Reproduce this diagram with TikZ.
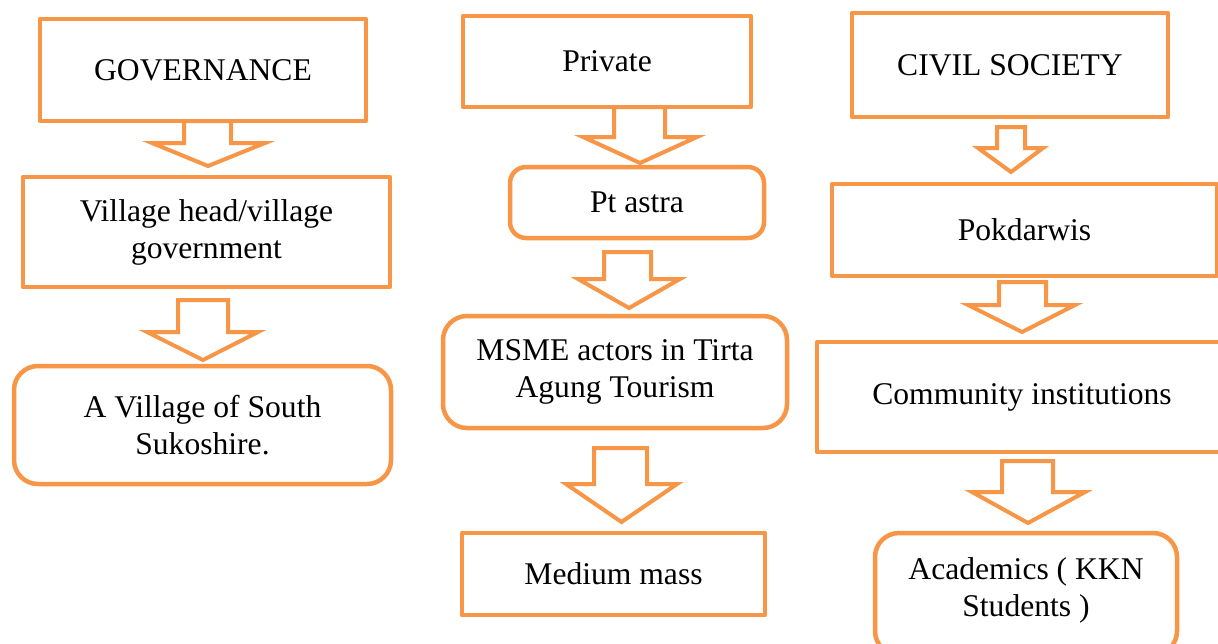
\documentclass[tikz,border=0pt]{standalone}
\usepackage{fontspec}
\setmainfont{Liberation Serif}
\definecolor{acc}{RGB}{247,150,70}
\tikzset{
  box/.style={draw=acc, line width=2.25pt, fill=white, align=center, inner sep=0pt,
    font=\fontsize{15.8}{18.5}\selectfont, line join=round},
  rbox/.style={box, rounded corners=12pt},
  barrowstyle/.style={draw=acc, line width=2pt, fill=white, line join=miter},
}
\newcommand\myblockarrow[8]{% top, shoulder, tip, stemL, stemR, headL, headR, cx
  \draw[barrowstyle] (#4,#1) -- (#4,#2) -- (#6,#2) -- (#8,#3) -- (#7,#2) -- (#5,#2) -- (#5,#1) -- cycle;}
\begin{document}
\begin{tikzpicture}[x=0.5pt,y=-0.5pt]
\useasboundingbox (0,0) rectangle (1218,643);
\clip (0,0) rectangle (1218,643);
% column 1
\myblockarrow{121}{143}{166}{184}{231}{152}{265}{208}
\myblockarrow{300}{332}{360}{178}{228}{147}{258}{203}
\node[box, minimum width=163pt, minimum height=51pt] (gov) at (203,70) {GOVERNANCE};
\node[box, minimum width=183.5pt, minimum height=55pt] (vh) at (206.5,232) {Village head/village\\government};
\node[rbox, minimum width=188.5pt, minimum height=59pt] (vil) at (202.5,425) {A Village of South\\Sukoshire.};
% column 2
\myblockarrow{107}{137}{163}{614}{665}{583}{697}{640}
\myblockarrow{252}{279}{308}{604}{651}{578}{680}{629}
\myblockarrow{448}{484}{522}{594}{647}{566}{677}{621.5}
\node[box, minimum width=144pt, minimum height=45.5pt] (priv) at (607,61.5) {Private};
\node[box, rounded corners=8pt, minimum width=127pt, minimum height=35.5pt] (pt) at (637,202.5) {Pt astra};
\node[rbox, minimum width=172pt, minimum height=56pt] (msme) at (615,372) {MSME actors in Tirta\\Agung Tourism};
\node[box, minimum width=151.5pt, minimum height=41pt] (med) at (613.5,574) {Medium mass};
% column 3
\myblockarrow{127}{148}{172}{997}{1025}{978}{1043}{1011}
\myblockarrow{282}{305}{332}{999}{1046}{968}{1075}{1022}
\myblockarrow{461}{492}{523}{1002}{1053}{972}{1085}{1028}
\node[box, minimum width=158pt, minimum height=52pt] (civ) at (1010,65) {CIVIL SOCIETY};
\node[box, minimum width=192.5pt, minimum height=46pt] (pok) at (1024.5,230) {Pokdarwis};
\node[box, minimum width=205pt, minimum height=55pt] (com) at (1022,397) {Community institutions};
\node[rbox, minimum width=151pt, minimum height=61pt] (aca) at (1026,594) {};
\node[font=\fontsize{15.8}{18.5}\selectfont, align=center] (acat) at (1026,590) {Academics ( KKN\\Students )};
\end{tikzpicture}
\end{document}
